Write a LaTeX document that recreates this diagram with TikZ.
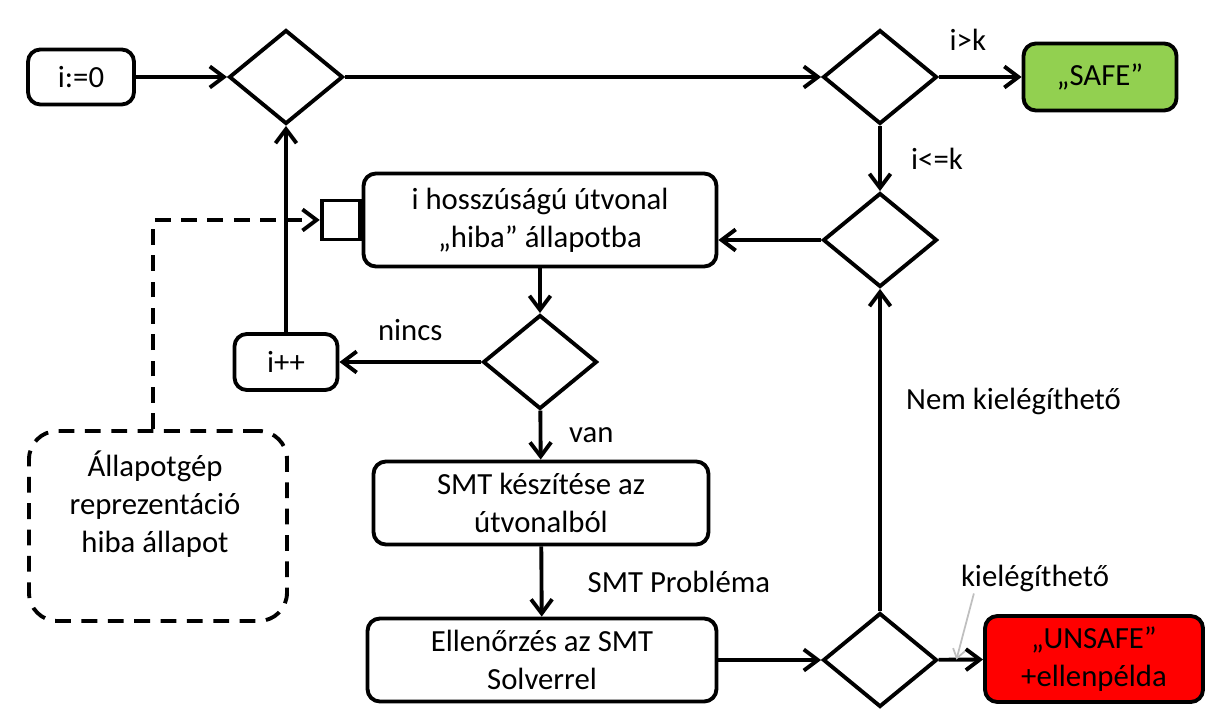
\documentclass[tikz,border=0pt]{standalone}
\usepackage{fontspec}
\setmainfont{Carlito}
\usetikzlibrary{arrows.meta,shapes.geometric,calc}
\definecolor{safegreen}{HTML}{92D050}
\definecolor{unsafered}{HTML}{FF0000}

\begin{document}
\begin{tikzpicture}[x=0.02cm, y=-0.02cm,
    font=\fontsize{17.5}{21.5}\selectfont,
    blk/.style={draw, line width=2.2pt, rounded corners=7pt, align=center, inner sep=2pt},
    dec/.style={draw, diamond, line width=2.2pt, minimum width=2.28cm, minimum height=1.88cm, inner sep=0pt},
    arr/.style={-{Straight Barb[length=8pt, width=12pt]}, line width=2.2pt},
    lbl/.style={inner sep=1pt}
]
\useasboundingbox (0,0) rectangle (1223,719);

\node[blk, minimum width=2.12cm, minimum height=1.1cm] (init) at (81,77) {i:=0};
\node[dec] (d1) at (286,77) {};
\node[dec] (d2) at (880,77) {};
\node[blk, fill=safegreen, minimum width=3.06cm, minimum height=1.34cm] (safe) at (1100,77) {„SAFE”};
\node[dec] (d3) at (880,240) {};
\node[blk, minimum width=7.06cm, minimum height=1.86cm] (path) at (540,220) {i hosszúságú útvonal\\„hiba” állapotba};
\node[draw, line width=2.2pt, minimum width=0.76cm, minimum height=0.78cm, anchor=east] (port) at (path.west) {};
\node[dec] (d4) at (540,362) {};
\node[blk, minimum width=2.06cm, minimum height=1.12cm] (inc) at (286,362) {i++};
\node[blk, minimum width=6.7cm, minimum height=1.66cm] (smt) at (541,503) {SMT készítése az\\útvonalból};
\node[blk, minimum width=6.98cm, minimum height=1.66cm] (chk) at (542,660) {Ellenőrzés az SMT\\Solverrel};
\node[dec] (d5) at (880,660) {};
\node[blk, fill=unsafered, minimum width=4.36cm, minimum height=1.72cm] (unsafe) at (1094,659) {„UNSAFE”\\+ellenpélda};
\node[draw, line width=2.2pt, dash pattern=on 9pt off 6pt, rounded corners=16pt, minimum width=5.16cm, minimum height=3.8cm] (note) at (158,526) {};
\node[align=center] (notetxt) at (155,504) {Állapotgép\\reprezentáció\\hiba állapot};
\node[lbl] (sat) at (1035,578) {kielégíthető};

\draw[arr] (init) -- (d1);
\draw[arr] (d1) -- (d2);
\draw[arr] (d2) -- node[lbl, above=0.45cm, pos=0.35] {i>k} (safe);
\draw[arr] (d2) -- node[lbl, right=0.55cm] {i<=k} (d3);
\draw[arr] (d3.west) -- (d3.west -| path.east);
\draw[arr] (path) -- (d4);
\draw[arr] (d4) -- node[lbl, above=0.35cm] {nincs} (inc);
\draw[arr] (inc) -- (d1);
\draw[arr] (d4) -- node[lbl, right=0.5cm] {van} (smt);
\draw[arr] (smt) -- node[lbl, right=0.85cm] {SMT Probléma} (chk);
\draw[arr] (chk) -- (d5);
\draw[arr] (d5) -- node[lbl, right=0.45cm, pos=0.65] {Nem kielégíthető} (d3);
\draw[arr] (d5) -- coordinate[pos=0.4] (hit) (unsafe);
\draw[arr, dash pattern=on 9pt off 6pt] ([xshift=-0.1cm]note.north) |- (port);
\draw[gray!50, line width=1pt, -{Straight Barb[length=5pt, width=7pt]}] ([xshift=0.3cm]sat.south west) -- (hit);
\end{tikzpicture}
\end{document}
